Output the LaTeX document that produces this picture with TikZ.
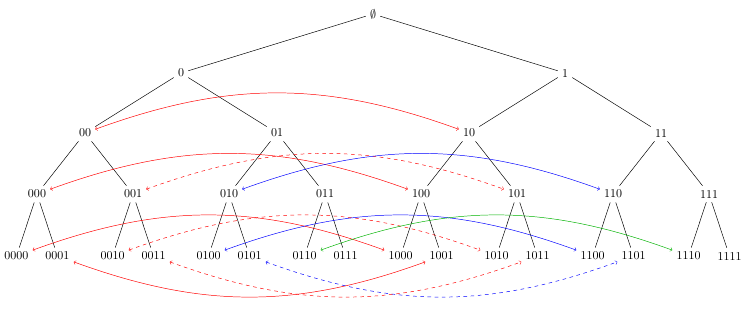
\documentclass[tikz,border=0pt]{standalone}
\begin{document}
\begin{tikzpicture}[x=0.8333pt,y=-0.8333pt,
  tn/.style={inner sep=3.33pt},
  tedge/.style={draw=black},
  arc/.style={<->},
  greenc/.style={draw=green!70!black}]
\useasboundingbox (0,0) rectangle (747,309);
% level 0
\node[tn] (e) at (373,14) {$\emptyset$};
% level 1
\node[tn] (n0) at (181,73) {0};
\node[tn] (n1) at (565,73) {1};
% level 2
\node[tn] (n00) at (85,133) {00};
\node[tn] (n01) at (277,133) {01};
\node[tn] (n10) at (469,133) {10};
\node[tn] (n11) at (661,133) {11};
% level 3
\node[tn] (n000) at (37,194) {000};
\node[tn] (n001) at (133,194) {001};
\node[tn] (n010) at (229,194) {010};
\node[tn] (n011) at (325,194) {011};
\node[tn] (n100) at (421,194) {100};
\node[tn] (n101) at (517,194) {101};
\node[tn] (n110) at (613,194) {110};
\node[tn] (n111) at (709,194) {111};
% level 4
\node[tn] (n0000) at (16.5,256) {0000};
\node[tn] (n0001) at (57.5,256) {0001};
\node[tn] (n0010) at (112.5,256) {0010};
\node[tn] (n0011) at (153.5,256) {0011};
\node[tn] (n0100) at (208.5,256) {0100};
\node[tn] (n0101) at (249.5,256) {0101};
\node[tn] (n0110) at (304.5,256) {0110};
\node[tn] (n0111) at (345.5,256) {0111};
\node[tn] (n1000) at (400.5,256) {1000};
\node[tn] (n1001) at (441.5,256) {1001};
\node[tn] (n1010) at (496.5,256) {1010};
\node[tn] (n1011) at (537.5,256) {1011};
\node[tn] (n1100) at (592.5,256) {1100};
\node[tn] (n1101) at (633.5,256) {1101};
\node[tn] (n1110) at (688.5,256) {1110};
\node[tn] (n1111) at (729.5,256) {1111};
% tree edges
\draw[tedge] (e) -- (n0); \draw[tedge] (e) -- (n1);
\draw[tedge] (n0) -- (n00); \draw[tedge] (n0) -- (n01);
\draw[tedge] (n1) -- (n10); \draw[tedge] (n1) -- (n11);
\draw[tedge] (n00) -- (n000); \draw[tedge] (n00) -- (n001);
\draw[tedge] (n01) -- (n010); \draw[tedge] (n01) -- (n011);
\draw[tedge] (n10) -- (n100); \draw[tedge] (n10) -- (n101);
\draw[tedge] (n11) -- (n110); \draw[tedge] (n11) -- (n111);
\draw[tedge] (n000) -- (n0000); \draw[tedge] (n000) -- (n0001);
\draw[tedge] (n001) -- (n0010); \draw[tedge] (n001) -- (n0011);
\draw[tedge] (n010) -- (n0100); \draw[tedge] (n010) -- (n0101);
\draw[tedge] (n011) -- (n0110); \draw[tedge] (n011) -- (n0111);
\draw[tedge] (n100) -- (n1000); \draw[tedge] (n100) -- (n1001);
\draw[tedge] (n101) -- (n1010); \draw[tedge] (n101) -- (n1011);
\draw[tedge] (n110) -- (n1100); \draw[tedge] (n110) -- (n1101);
\draw[tedge] (n111) -- (n1110); \draw[tedge] (n111) -- (n1111);
% swap arcs
\draw[arc,red] (n00) to[bend left=20] (n10);
\draw[arc,red] (n000) to[bend left=20] (n100);
\draw[arc,red,dashed] (n001) to[bend left=20] (n101);
\draw[arc,blue] (n010) to[bend left=20] (n110);
\draw[arc,red] (n0000) to[bend left=20] (n1000);
\draw[arc,red,dashed] (n0010) to[bend left=20] (n1010);
\draw[arc,blue] (n0100) to[bend left=20] (n1100);
\draw[arc,greenc] (n0110) to[bend left=20] (n1110);
\draw[arc,red] (n0001) to[bend right=20] (n1001);
\draw[arc,red,dashed] (n0011) to[bend right=20] (n1011);
\draw[arc,blue,dashed] (n0101) to[bend right=20] (n1101);
\end{tikzpicture}
\end{document}
